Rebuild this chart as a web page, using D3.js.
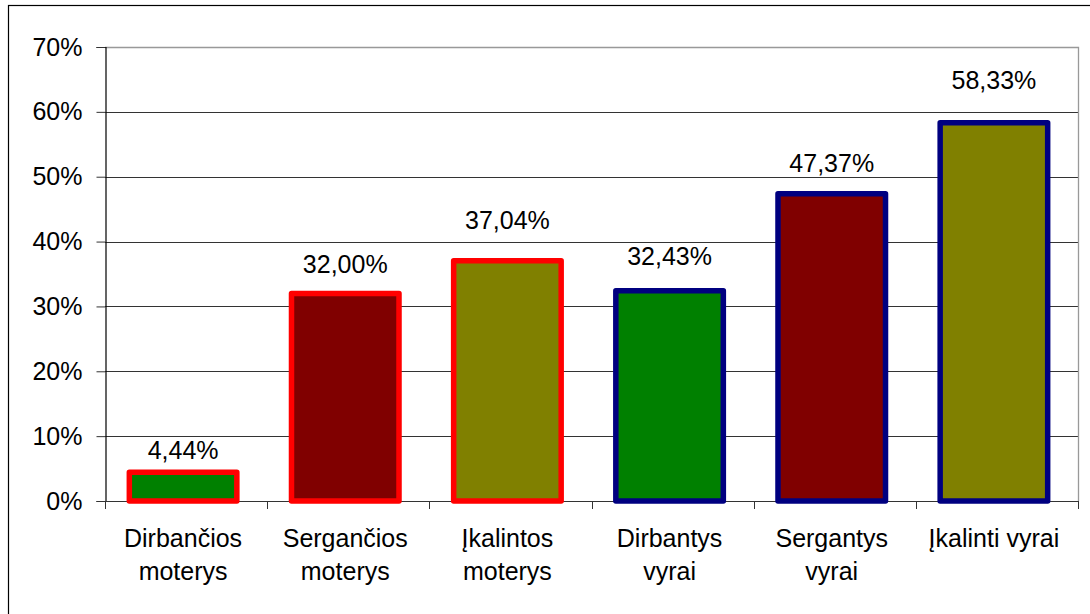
<!DOCTYPE html>
<html><head><meta charset="utf-8">
<script src="https://cdn.jsdelivr.net/npm/d3@7/dist/d3.min.js"></script>
<style>body{margin:0;background:#fff}svg{display:block}text{font-family:"Liberation Sans",Arial,sans-serif;fill:#000}</style>
</head><body><svg id="c" width="1090" height="614"></svg>
<script>
// ---- data ----
const categories = ["Dirbančios moterys","Sergančios moterys","Įkalintos moterys","Dirbantys vyrai","Sergantys vyrai","Įkalinti vyrai"];
const labelLines = [["Dirbančios","moterys"],["Sergančios","moterys"],["Įkalintos","moterys"],["Dirbantys","vyrai"],["Sergantys","vyrai"],["Įkalinti vyrai"]];
const values = [4.44, 32.00, 37.04, 32.43, 47.37, 58.33];
const yTicks = [0,10,20,30,40,50,60,70];

// ---- styles / layout ----
const fills = ["#008000","#800000","#808000","#008000","#800000","#808000"];
const strokes = ["#FF0000","#FF0000","#FF0000","#000080","#000080","#000080"];
const labelLift = [13,20,32,26,22,34];   // px gap between bar top and value label baseline
const fs = 25;

const svg = d3.select("#c");
const m = {l:105, r:1078, t:47, b:501};

// outer frame
svg.append("rect").attr("x",8.5).attr("y",5.5).attr("width",1100).attr("height",700)
  .attr("fill","none").attr("stroke","#000").attr("stroke-width",1.2);

const x = d3.scaleBand().domain(categories).range([m.l-3,m.r-3]).paddingInner(0.337).paddingOuter(0.1685);
const y = d3.scaleLinear().domain([0,70]).range([m.b,m.t]);

// grid lines
svg.append("g").selectAll("line").data(yTicks.filter(d=>d>0 && d<70)).join("line")
  .attr("x1",m.l).attr("x2",m.r).attr("y1",d=>Math.round(y(d))+0.5).attr("y2",d=>Math.round(y(d))+0.5)
  .attr("stroke","#333").attr("stroke-width",1);
// plot border top/right
svg.append("path").attr("d",`M${m.l},${m.t+0.5}H${m.r+0.5}V${m.b}`).attr("fill","none").attr("stroke","#999").attr("stroke-width",1.3);

// y axis
const yAxis = d3.axisLeft(y).tickValues(yTicks).tickSize(9).tickPadding(14).tickFormat(d=>d+"%");
const gy = svg.append("g").attr("transform",`translate(${m.l+0.5},0)`).call(yAxis);
gy.select(".domain").attr("stroke","#000").attr("stroke-width",1.2);
gy.selectAll(".tick line").attr("stroke","#333");
gy.selectAll(".tick text").attr("font-size",fs).attr("font-family","Liberation Sans, Arial, sans-serif").attr("fill","#000");

// x axis baseline and ticks
const bw = (m.r-m.l)/categories.length;
const xt = d3.range(categories.length+1).map(i=>m.l+i*bw);
svg.append("line").attr("x1",m.l).attr("x2",m.r).attr("y1",m.b+0.5).attr("y2",m.b+0.5).attr("stroke","#333").attr("stroke-width",1.2);
svg.append("g").selectAll("line").data(xt).join("line")
  .attr("x1",d=>Math.round(d)+0.5).attr("x2",d=>Math.round(d)+0.5).attr("y1",m.b).attr("y2",m.b+8).attr("stroke","#333");

// bars
const sw = 5.5;
svg.append("g").selectAll("rect").data(values).join("rect")
  .attr("x",(d,i)=>x(categories[i]))
  .attr("width",x.bandwidth())
  .attr("y",d=>y(d))
  .attr("height",d=>y(0)-y(d))
  .attr("fill",(d,i)=>fills[i]).attr("stroke",(d,i)=>strokes[i]).attr("stroke-width",sw)
  .attr("stroke-linejoin","round");

// value labels
svg.append("g").selectAll("text").data(values).join("text")
  .attr("x",(d,i)=>x(categories[i])+x.bandwidth()/2)
  .attr("y",(d,i)=>y(d)-labelLift[i])
  .attr("text-anchor","middle").attr("font-size",fs)
  .text(d=>d.toFixed(2).replace(".",",")+"%");

// category labels
const cl = svg.append("g").selectAll("text").data(labelLines).join("text")
  .attr("text-anchor","middle").attr("font-size",fs)
  .attr("x",(d,i)=>x(categories[i])+x.bandwidth()/2).attr("y",546.5);
cl.selectAll("tspan").data(d=>d).join("tspan")
  .attr("x",function(){return this.parentNode.getAttribute("x");})
  .attr("dy",(d,i)=>i===0?0:33).text(d=>d);
</script></body></html>
